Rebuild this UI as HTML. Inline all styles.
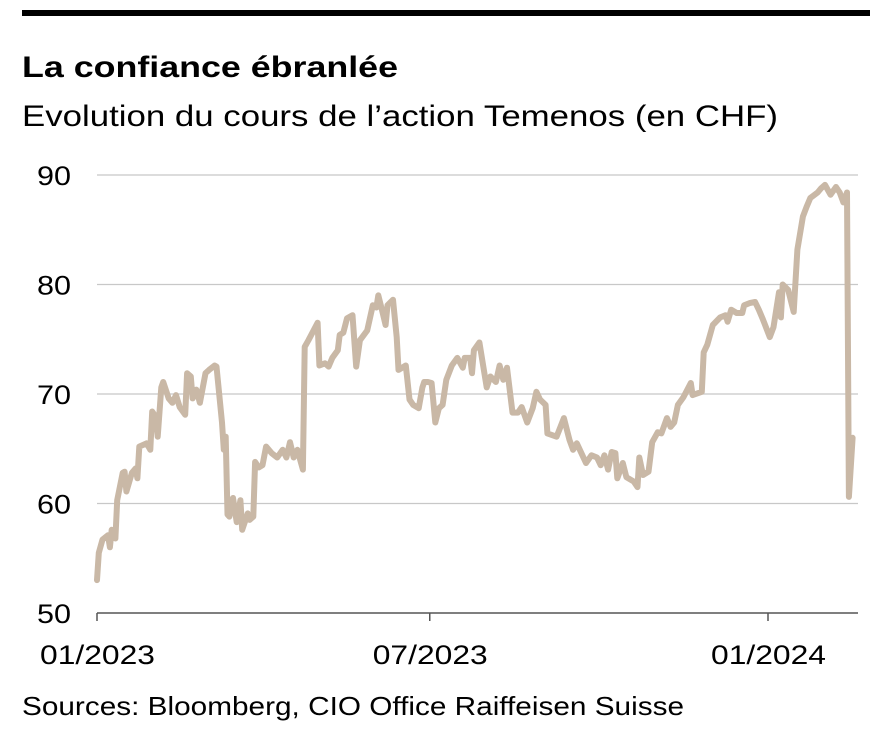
<!DOCTYPE html>
<html><head><meta charset="utf-8">
<style>
body{margin:0;background:#fff;width:886px;height:730px;overflow:hidden;font-family:"Liberation Sans",sans-serif;}
</style></head>
<body>
<svg width="886" height="730">
<rect x="22" y="10" width="848" height="6" fill="#000"/>
<text x="22" y="77" font-size="30" font-weight="bold" fill="#000" textLength="376" lengthAdjust="spacingAndGlyphs">La confiance ébranlée</text>
<text x="22" y="126" font-size="30" fill="#000" textLength="756" lengthAdjust="spacingAndGlyphs">Evolution du cours de l’action Temenos (en CHF)</text>
<g id="grid"></g>
<g id="yt"></g>
<g id="xt"></g>
<path id="line" fill="none" stroke="#c9b8a6" stroke-width="6" stroke-linejoin="round" stroke-linecap="round"/>
<text x="22" y="715" font-size="26" fill="#000" textLength="662" lengthAdjust="spacingAndGlyphs">Sources: Bloomberg, CIO Office Raiffeisen Suisse</text>
</svg>
<script>
const days=[0,1,3,6,7,8,10,11,14,15,16,19,21,22,23,27,29,30,32,33,35,36,39,41,43,45,48,49,51,52,54,56,59,61,64,65,68,69,70,71,72,74,76,78,79,82,83,85,86,88,90,92,95,98,101,103,105,107,109,112,113,115,120,121,124,126,128,131,132,134,136,139,141,143,147,150,152,153,155,157,158,161,163,164,168,170,172,175,177,178,180,182,184,186,188,190,193,196,199,200,203,204,205,208,212,214,217,219,221,223,226,229,231,234,237,239,241,244,245,250,254,257,259,261,266,269,272,274,276,278,280,282,283,286,288,292,294,295,297,300,302,305,307,310,312,314,316,319,323,324,329,330,332,335,339,342,343,345,348,351,352,355,358,360,362,366,368,371,372,373,376,379,381,384,386,388,392,394,396,399,402,404,406,408,409,411];
const prices=[53.0,55.5,56.7,57.1,56.0,57.6,56.8,60.3,62.8,62.9,61.1,62.8,63.2,62.3,65.2,65.5,64.9,68.4,67.9,66.1,70.6,71.1,69.6,69.2,69.9,68.8,68.1,71.9,71.6,69.6,70.4,69.2,71.9,72.2,72.6,72.5,67.4,64.9,66.1,59.0,58.8,60.5,58.3,60.3,57.6,59.1,58.5,58.8,63.8,63.3,63.5,65.2,64.6,64.2,64.9,64.2,65.6,64.2,64.9,63.1,74.3,74.9,76.5,72.6,72.8,72.5,73.3,74.0,75.4,75.6,76.9,77.2,72.5,74.9,75.8,78.1,77.9,79.0,77.7,76.3,78.1,78.6,75.2,72.2,72.6,69.5,69.0,68.7,70.6,71.1,71.1,71.0,67.4,68.7,69.0,71.3,72.6,73.3,72.4,73.3,73.3,71.9,74.0,74.7,70.6,71.6,71.1,72.6,71.3,72.4,68.3,68.3,68.8,67.4,68.7,70.2,69.5,69.0,66.4,66.1,67.8,65.8,64.9,65.5,63.7,64.4,64.2,63.5,64.4,63.1,64.7,64.6,62.3,63.7,62.4,62.0,61.5,64.2,62.6,62.9,65.6,66.5,66.4,67.8,67.0,67.4,69.0,69.7,71.0,69.9,70.2,73.8,74.5,76.3,77.0,77.2,76.6,77.7,77.4,77.4,78.1,78.3,78.4,77.7,76.9,75.2,76.1,79.3,77.0,80.0,79.5,77.5,83.2,86.2,87.1,87.9,88.4,88.8,89.1,88.2,88.9,88.4,87.5,88.4,60.6,66.0];
const yTicks=[50,60,70,80,90];
const xTickLabels=["01/2023","07/2023","01/2024"];
const xTickDays=[0,181,365];
const X=d=>97+d*(671/365);
const Y=v=>175+(90-v)*10.95;
const NS="http://www.w3.org/2000/svg";
const grid=document.getElementById('grid'),yt=document.getElementById('yt'),xt=document.getElementById('xt');
yTicks.forEach(v=>{
 const l=document.createElementNS(NS,'line');
 l.setAttribute('x1',97);l.setAttribute('x2',858);l.setAttribute('y1',Y(v));l.setAttribute('y2',Y(v));
 l.setAttribute('stroke',v===50?'#555':'#c8c8c8');l.setAttribute('stroke-width',v===50?1.5:1.2);
 
 
 grid.appendChild(l);
 const t=document.createElementNS(NS,'text');
 t.setAttribute('x',71);t.setAttribute('y',Y(v)+10);t.setAttribute('text-anchor','end');t.setAttribute('font-size','27');
 t.setAttribute('textLength','34');t.setAttribute('lengthAdjust','spacingAndGlyphs');
 t.textContent=v;
 
 
 yt.appendChild(t);
});
xTickDays.forEach((d,i)=>{
 const l=document.createElementNS(NS,'line');
 l.setAttribute('x1',X(d));l.setAttribute('x2',X(d));l.setAttribute('y1',613);l.setAttribute('y2',621);
 l.setAttribute('stroke','#555');l.setAttribute('stroke-width',1.5);
 
 
 xt.appendChild(l);
 const t=document.createElementNS(NS,'text');
 t.setAttribute('x',X(d)-57);t.setAttribute('y',664);t.setAttribute('font-size','27');
 t.setAttribute('textLength','115');t.setAttribute('lengthAdjust','spacingAndGlyphs');
 t.textContent=xTickLabels[i];
 
 
 xt.appendChild(t);
});
document.getElementById('line').setAttribute('d',days.map((d,i)=>(i?'L':'M')+X(d).toFixed(1)+','+Y(prices[i]).toFixed(1)).join(''));
</script>
</body></html>
